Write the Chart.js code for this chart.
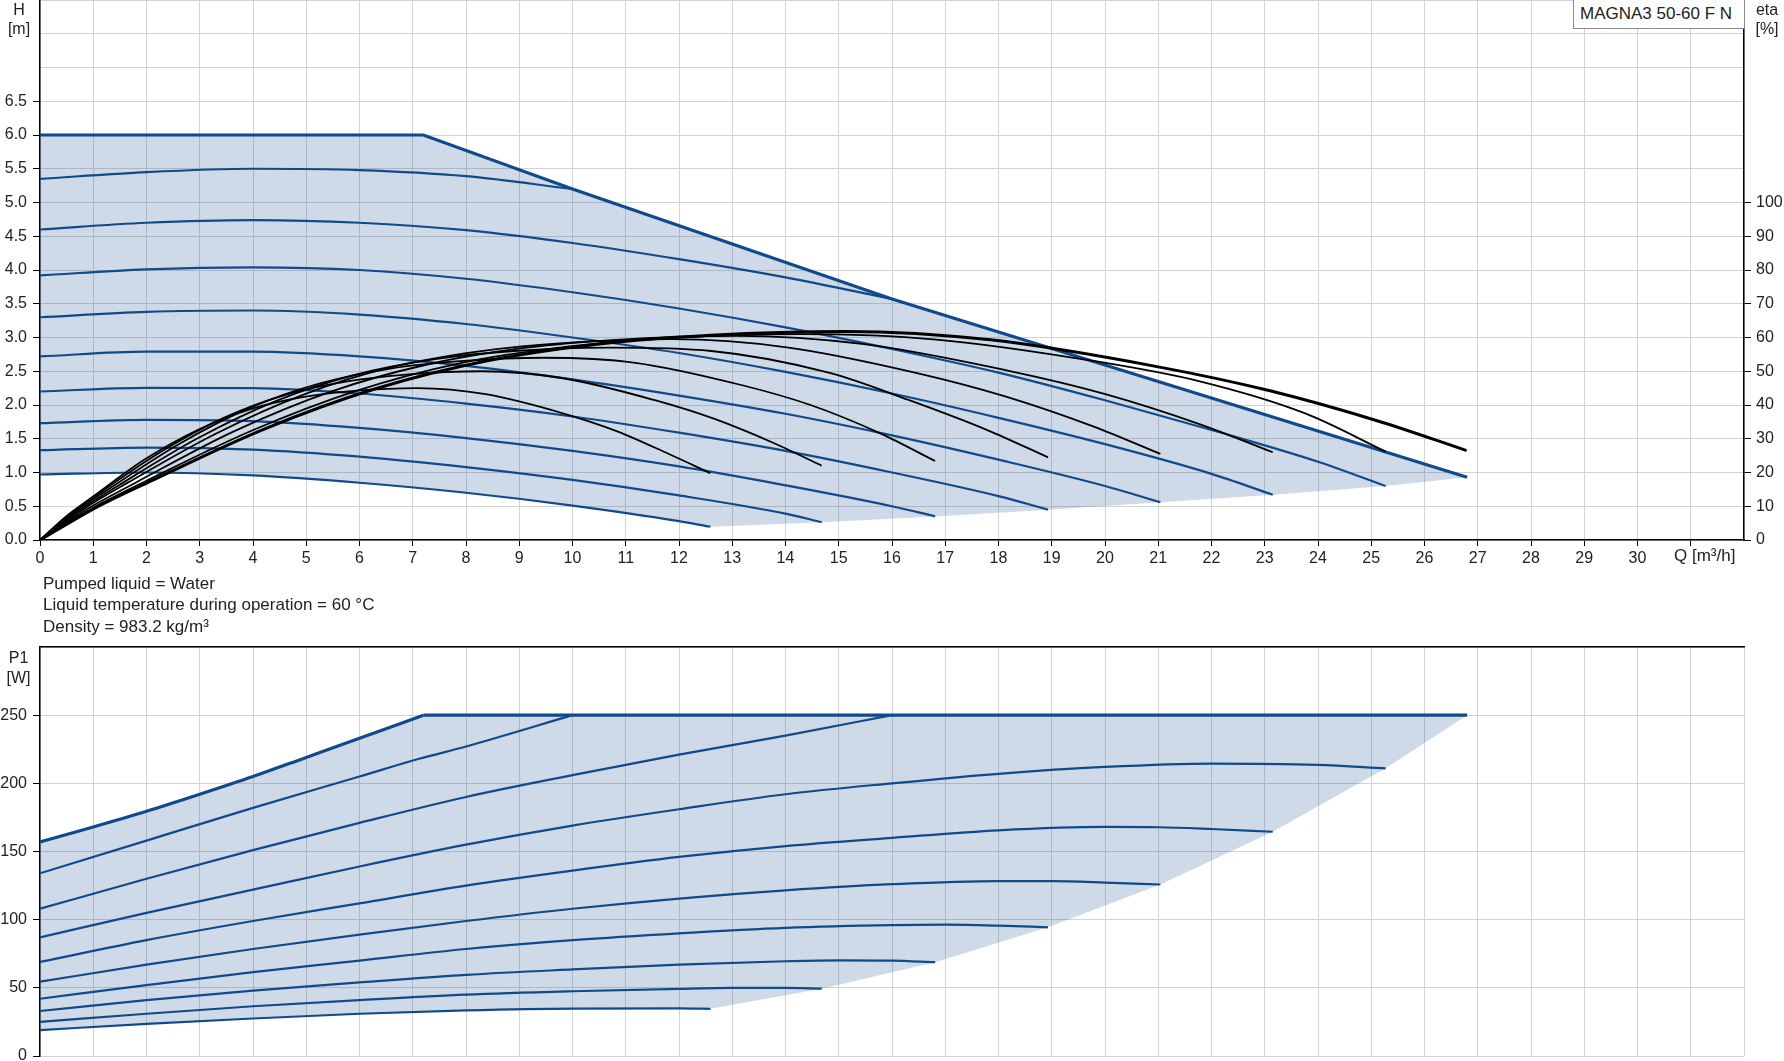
<!DOCTYPE html>
<html>
<head>
<meta charset="utf-8">
<script src="https://cdn.jsdelivr.net/npm/chart.js"></script>
<style>
  html, body { margin: 0; padding: 0; background: #fff; }
  body { width: 1784px; height: 1061px; position: relative; overflow: hidden;
         font-family: "Liberation Sans", Arial, sans-serif; color: #222; }
  canvas { position: absolute; left: 0; }
  .txt { position: absolute; font-size: 16px; white-space: nowrap; }
  .axisTitle { text-align: center; line-height: 19.5px; }
  #model { left: 1573px; top: -1px; width: 164px; height: 28px; padding-left: 6px; font-size: 17px;
           border: 1px solid #8a8a8a; background: #fff; line-height: 28px; }
  #notes { left: 43px; top: 572.5px; line-height: 21.65px; font-size: 17px; }
</style>
</head>
<body>
<canvas id="hChart" width="1784" height="600" style="top:-20px"></canvas>
<canvas id="pChart" width="1784" height="449" style="top:627px"></canvas>

<div class="txt axisTitle" style="left:0;top:-0.5px;width:38px">H<br>[m]</div>
<div class="txt axisTitle" style="left:1750px;top:-0.5px;width:34px">eta<br>[%]</div>
<div class="txt" id="model">MAGNA3 50-60 F N</div>
<div class="txt" style="left:1674px;top:546px;line-height:20px;font-size:17px">Q [m³/h]</div>
<div class="txt" id="notes">Pumped liquid = Water<br>Liquid temperature during operation = 60 °C<br>Density = 983.2 kg/m³</div>
<div class="txt axisTitle" style="left:0;top:648px;width:37px;line-height:20px">P1<br>[W]</div>

<script>
// Q [m3/h] vs H [m]: constant speed curves, top first
const hEnvelope = [[0, 6.0], [7.2, 6.0], [10, 5.2], [16, 3.57], [26.8, 0.93]];
const hCurve1 = [[0, 5.35], [2, 5.45], [4, 5.5], [6, 5.48], [8, 5.39], [10, 5.2]];
const hCurve2 = [[0, 4.6], [2, 4.7], [4, 4.74], [6, 4.7], [8, 4.59], [10, 4.4], [12, 4.16], [14, 3.89], [16, 3.57]];
const hCurve3 = [[0, 3.92], [2, 4.01], [4, 4.04], [6, 4.0], [8, 3.87], [10, 3.67], [12, 3.43], [14, 3.15], [16, 2.83], [18, 2.48], [20, 2.07], [22, 1.63], [24, 1.16], [25.27, 0.8]];
const hCurve4 = [[0, 3.3], [2, 3.38], [4, 3.4], [6, 3.34], [8, 3.2], [10, 3.0], [12, 2.77], [14, 2.49], [16, 2.17], [18, 1.81], [20, 1.42], [22, 0.98], [23.15, 0.67]];
const hCurve5 = [[0, 2.72], [2, 2.79], [4, 2.79], [6, 2.72], [8, 2.58], [10, 2.38], [12, 2.14], [14, 1.87], [16, 1.55], [18, 1.19], [20, 0.8], [21.04, 0.56]];
const hCurve6 = [[0, 2.2], [2, 2.255], [4, 2.25], [6, 2.17], [8, 2.02], [10, 1.83], [12, 1.59], [14, 1.32], [16, 1.0], [18, 0.65], [18.93, 0.45]];
const hCurve7 = [[0, 1.73], [2, 1.78], [4, 1.76], [6, 1.66], [8, 1.51], [10, 1.32], [12, 1.09], [14, 0.81], [16, 0.5], [16.81, 0.35]];
const hCurve8 = [[0, 1.33], [2, 1.37], [4, 1.34], [6, 1.235], [8, 1.08], [10, 0.89], [12, 0.66], [14, 0.39], [14.68, 0.263]];
const hCurve9 = [[0, 0.97], [2, 1.0], [4, 0.957], [6, 0.848], [8, 0.7], [10, 0.51], [12, 0.28], [12.59, 0.196]];
const hEndLine = [[12.59, 0.196], [14.68, 0.263], [16.81, 0.35], [18.93, 0.45], [21.04, 0.56], [23.15, 0.67], [25.27, 0.8], [26.8, 0.93]];

// efficiency curves, eta [%]
const etaMax = [[0, 0], [1.05, 9.6], [2.1, 17.6], [4.2, 32.8], [6.3, 44.8], [8.4, 53.1], [10.5, 58.1], [12.6, 60.7], [15.12, 61.8], [17.85, 59.3], [21, 51.3], [23.1, 44.2], [25.2, 34.9], [26.79, 26.5]];
const eta3 = [[0, 0], [0.99, 9.5], [1.98, 17.4], [3.96, 32.3], [5.94, 44.2], [7.92, 52.5], [9.9, 57.3], [11.88, 59.9], [14.26, 61], [16.83, 59.4], [19.8, 53], [21.78, 47], [23.76, 37.5], [25.27, 26.2]];
const eta4 = [[0, 0], [0.91, 9.4], [1.82, 17.2], [3.63, 32.1], [5.45, 43.9], [7.27, 52], [9.09, 56.9], [10.9, 59.4], [13.08, 60.5], [15.44, 58.1], [18.17, 50.2], [19.99, 43.3], [21.8, 34.2], [23.15, 26]];
const eta5 = [[0, 0], [0.82, 9.2], [1.65, 17], [3.3, 31.5], [4.95, 43.1], [6.6, 51.2], [8.25, 55.9], [9.89, 58.4], [11.87, 59.5], [14.02, 57.1], [16.49, 49.4], [18.14, 42.5], [19.79, 33.6], [21.04, 25.5]];
const eta6 = [[0, 0], [0.74, 8.8], [1.48, 16.2], [2.97, 30.2], [4.45, 41.3], [5.93, 49], [7.42, 53.6], [8.9, 56], [10.68, 57], [12.61, 56], [14.83, 49.5], [16.31, 41.5], [17.8, 32.5], [18.93, 24.5]];
const eta7 = [[0, 0], [0.66, 8.4], [1.32, 15.4], [2.63, 28.6], [3.95, 39.2], [5.26, 46.4], [6.58, 50.8], [7.89, 53], [9.47, 54], [11.18, 52.5], [13.15, 46], [14.47, 40], [15.78, 31.6], [16.81, 23.4]];
const eta8 = [[0, 0], [0.58, 7.75], [1.15, 14.25], [2.31, 26.5], [3.46, 36.25], [4.61, 43], [5.77, 47], [6.92, 49.1], [8.3, 50], [9.8, 48], [11.53, 41.5], [12.68, 35.8], [13.84, 28.3], [14.68, 22]];
const eta9 = [[0, 0], [0.49, 7], [0.99, 12.8], [1.97, 23.9], [2.96, 32.6], [3.94, 38.7], [4.93, 42.3], [5.91, 44.2], [7.09, 45], [8.37, 43.2], [9.85, 37.4], [10.84, 32.2], [11.82, 25.4], [12.59, 19.8]];

// Q vs P1 [W]
const pMaxRise = [[0, 157], [1, 168], [2, 179.5], [3, 192], [4, 205], [5, 219], [6, 233], [7.2, 250]];
const pMaxFlat = [[7.2, 250], [26.8, 250]];
const pCurve1 = [[0, 134], [2, 158], [4, 182], [6, 205], [7.12, 218], [8, 227], [10, 250]];
const pCurve2 = [[0, 108], [2, 130], [4, 151], [6, 171], [8, 190], [10, 206], [12, 221], [14, 235], [16, 250]];
const pCurve3 = [[0, 87], [2, 105], [4, 122], [6, 139], [8, 155], [10, 169], [12, 181], [14, 192], [16, 200], [18, 207], [20, 212], [22, 214.5], [24, 213.5], [25.27, 211]];
const pCurve4 = [[0, 69], [2, 85], [4, 99], [6, 112], [8, 125], [10, 136], [12, 146], [14, 154], [16, 160], [18, 165.5], [20, 168], [21, 167.8], [22, 166.5], [23.15, 164.5]];
const pCurve5 = [[0, 54.5], [2, 67], [4, 78.5], [6, 89], [8, 99], [10, 108], [12, 115.5], [14, 121.5], [16, 126], [18, 128.3], [19, 128.2], [20, 127.2], [21.04, 125.8]];
const pCurve6 = [[0, 42], [2, 52], [4, 61.5], [6, 70], [8, 78.5], [10, 85], [12, 90], [14, 94], [16, 96], [17, 96.3], [18, 95.6], [18.93, 94.4]];
const pCurve7 = [[0, 33], [2, 41], [4, 48], [6, 54], [8, 59.5], [10, 63.5], [12, 67], [14, 69.5], [15, 70.2], [16, 70], [16.81, 68.8]];
const pCurve8 = [[0, 25], [2, 31], [4, 36.5], [6, 41], [8, 45], [10, 47.5], [12, 49.3], [13, 49.9], [14, 49.9], [14.68, 49.4]];
const pCurve9 = [[0, 19], [2, 23.5], [4, 27.5], [6, 31], [8, 33.5], [10, 34.8], [12, 34.9], [12.59, 34.6]];
const pEndLine = [[12.59, 34.6], [14.68, 49.4], [16.81, 68.8], [18.93, 94.4], [21.04, 125.8], [23.15, 164.5], [25.27, 211], [26.8, 250]];

const FONT = "'Liberation Sans', Arial, sans-serif";
const BLUE = '#114a8b';
const GRID = '#d3d3d3';
const FILL = 'rgba(20, 75, 140, 0.205)';

Chart.defaults.font.family = FONT;
Chart.defaults.font.size = 16;
Chart.defaults.color = '#222';

const pts = a => a.map(p => ({ x: p[0], y: p[1] }));

function curve(data, color, width, axis, order, straight) {
  const ds = {
    data: pts(data), borderColor: color, borderWidth: width, yAxisID: axis,
    order: order, pointRadius: 0, fill: false
  };
  if (straight) ds.tension = 0;
  else ds.cubicInterpolationMode = 'monotone';
  return ds;
}

function area(data, axis) {
  return {
    data: pts(data), borderWidth: 0, borderColor: 'rgba(0,0,0,0)', backgroundColor: FILL,
    fill: 'shape', pointRadius: 0, tension: 0, yAxisID: axis, order: 5
  };
}

const noPlugins = { legend: { display: false }, tooltip: { enabled: false } };

// top chart: H and eta
const hShape = hEnvelope.concat(hEndLine.slice().reverse(), hCurve9.slice().reverse());
const hSets = [area(hShape, 'y'), curve(hEnvelope, BLUE, 3.2, 'y', 3, true)];
[hCurve1, hCurve2, hCurve3, hCurve4, hCurve5, hCurve6, hCurve7, hCurve8, hCurve9]
  .forEach(c => hSets.push(curve(c, BLUE, 2.2, 'y', 4)));
[eta3, eta4, eta5, eta6, eta7, eta8, eta9].forEach(c => hSets.push(curve(c, '#000', 1.8, 'y2', 2)));
hSets.push(curve(etaMax, '#000', 3, 'y2', 1));

new Chart(document.getElementById('hChart'), {
  type: 'line',
  data: { datasets: hSets },
  options: {
    responsive: false,
    animation: false,
    layout: { padding: { top: 20, left: 0, right: 0, bottom: 0 } },
    plugins: noPlugins,
    scales: {
      x: {
        type: 'linear', position: 'bottom', min: 0, max: 32,
        ticks: { stepSize: 1, autoSkip: false, maxRotation: 0, padding: 3,
                 callback: v => (v <= 30 ? String(v) : '') },
        grid: { color: GRID, tickColor: ctx => (ctx.tick && ctx.tick.value > 31 ? 'rgba(0,0,0,0)' : '#000'), tickLength: 6 },
        border: { color: '#000', width: 1.5 },
        afterFit: s => { s.height = 40; }
      },
      y: {
        position: 'left', min: 0, max: 8,
        ticks: { stepSize: 0.5, autoSkip: false, padding: 6,
                 callback: v => (v <= 6.5 ? v.toFixed(1) : '') },
        grid: { color: GRID, tickColor: ctx => (ctx.tick && ctx.tick.value > 6.5 ? 'rgba(0,0,0,0)' : '#000'), tickLength: 7 },
        border: { color: '#000', width: 1.5 },
        afterFit: s => { s.width = 40; }
      },
      y2: {
        position: 'right', min: 0, max: 160,
        ticks: { stepSize: 10, autoSkip: false, padding: 5,
                 callback: v => (v <= 100 ? String(v) : '') },
        grid: { drawOnChartArea: false, tickColor: ctx => (ctx.tick && ctx.tick.value > 100 ? 'rgba(0,0,0,0)' : '#000'), tickLength: 7 },
        border: { color: '#000', width: 1.5 },
        afterFit: s => { s.width = 40; }
      }
    }
  }
});

// bottom chart: P1
const pShape = pMaxRise.concat(pMaxFlat, pEndLine.slice().reverse(), pCurve9.slice().reverse());
const pSets = [area(pShape, 'y'), curve(pMaxRise, BLUE, 3.2, 'y', 3), curve(pMaxFlat, BLUE, 3.2, 'y', 3, true)];
[pCurve1, pCurve2, pCurve3, pCurve4, pCurve5, pCurve6, pCurve7, pCurve8, pCurve9]
  .forEach(c => pSets.push(curve(c, BLUE, 2.2, 'y', 4)));

new Chart(document.getElementById('pChart'), {
  type: 'line',
  data: { datasets: pSets },
  options: {
    responsive: false,
    animation: false,
    layout: { padding: { top: 20, left: 0, right: 40, bottom: 20 } },
    plugins: noPlugins,
    scales: {
      x: {
        type: 'linear', position: 'top', min: 0, max: 32,
        ticks: { stepSize: 1, display: false },
        grid: { color: GRID, drawTicks: false },
        border: { color: '#000', width: 1.5 },
        afterFit: s => { s.height = 0; }
      },
      y: {
        position: 'left', min: 0, max: 300,
        ticks: { stepSize: 50, autoSkip: false, padding: 6,
                 callback: v => (v <= 250 ? String(v) : '') },
        grid: { color: GRID, tickColor: ctx => (ctx.tick && ctx.tick.value > 250 ? 'rgba(0,0,0,0)' : '#000'), tickLength: 7 },
        border: { color: '#000', width: 1.5 },
        afterFit: s => { s.width = 40; }
      }
    }
  }
});
</script>
</body>
</html>
